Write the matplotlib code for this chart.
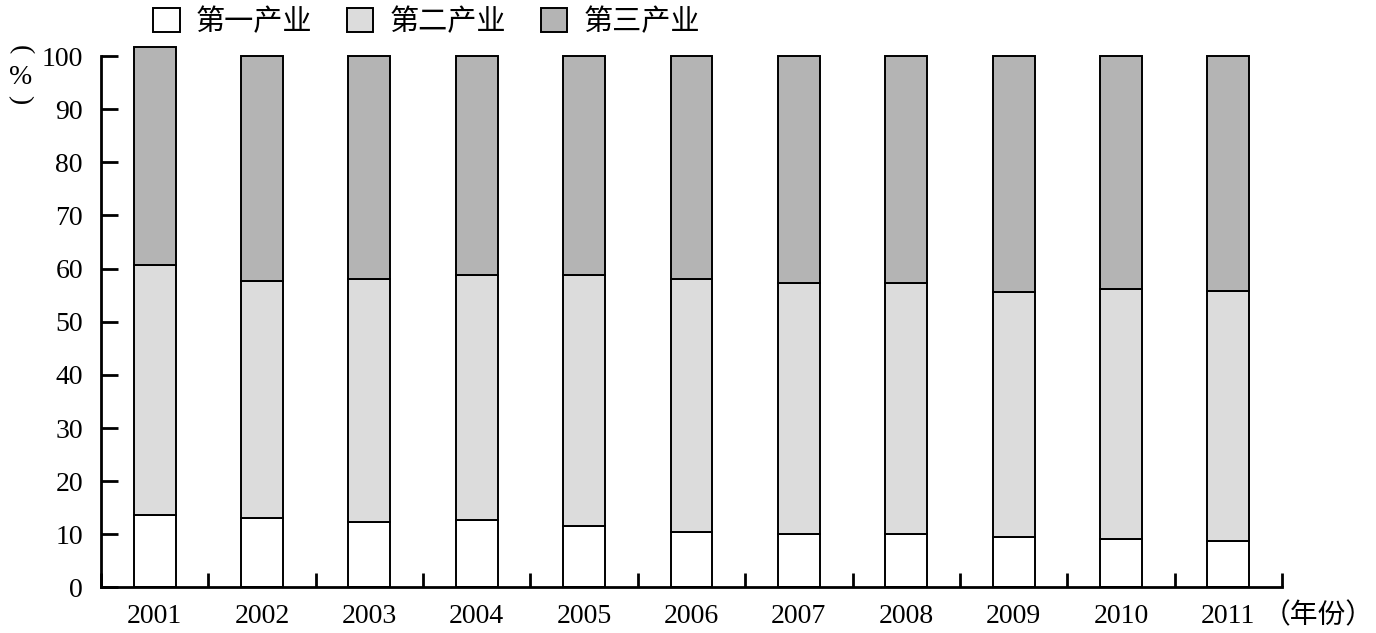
import numpy as np
import matplotlib
matplotlib.use('Agg')
import matplotlib.pyplot as plt

plt.rcParams['font.family'] = ['Liberation Serif', 'Noto Sans CJK SC', 'DejaVu Sans']

years = ['2001', '2002', '2003', '2004', '2005', '2006',
         '2007', '2008', '2009', '2010', '2011']
primary = [13.6, 13.1, 12.3, 12.7, 11.5, 10.4, 10.1, 10.1, 9.5, 9.2, 8.7]
secondary = [47.1, 44.6, 45.7, 46.1, 47.3, 47.6, 47.2, 47.2, 46.1, 46.9, 47.0]
tertiary = [41.0, 42.3, 42.0, 41.2, 41.2, 42.0, 42.7, 42.7, 44.4, 43.9, 44.3]
names = ['第一产业', '第二产业', '第三产业']
colors = ['white', '#dcdcdc', '#b4b4b4']

fig = plt.figure(figsize=(13.76, 6.33), dpi=100)
ax = fig.add_axes([0.0734, 0.0719, 0.8583, 0.8396])

x = np.arange(len(years))
w = 0.39
bottom = np.zeros(len(years))
handles = []
for vals, c, nm in zip([primary, secondary, tertiary], colors, names):
    b = ax.bar(x, vals, w, bottom=bottom, color=c, edgecolor='black',
               linewidth=1.4, label=nm, clip_on=False, zorder=3)
    handles.append(b)
    bottom = bottom + np.array(vals)

ax.set_xlim(-0.5, len(years) - 0.5)
ax.set_ylim(0, 100)
ax.set_yticks(range(0, 101, 10))

ax.set_xticks(x)
ax.set_xticklabels(years)
ax.set_xticks(np.arange(-0.5, len(years), 1), minor=True)
ax.tick_params(axis='x', which='major', length=0, pad=12, labelsize=20)
ax.tick_params(axis='x', which='minor', direction='in', length=10, width=2)
ax.tick_params(axis='y', direction='in', length=12, width=2, pad=13, labelsize=20)

for s in ['top', 'right']:
    ax.spines[s].set_visible(False)
for s in ['left', 'bottom']:
    ax.spines[s].set_linewidth(2)
    ax.spines[s].set_zorder(4)

# vertical y label: brackets turned on their side around an upright %
fig.text(20/1376, 1 - 50/633, '(', rotation=-90, ha='center', va='center',
         fontsize=20, family='Liberation Serif')
fig.text(21/1376, 1 - 77/633, '%', ha='center', va='center', fontsize=20)
fig.text(20/1376, 1 - 100/633, ')', rotation=-90, ha='center', va='center',
         fontsize=20, family='Liberation Serif')

fig.text(1374/1376, 1 - 615/633, '（年份）', ha='right', va='center', fontsize=20,
         family='Noto Sans CJK SC')

fig.legend(handles=handles, labels=names, loc='center', bbox_to_anchor=(0.31, 1 - 22/633),
           ncol=3, frameon=False, fontsize=21, handlelength=0.9, handleheight=0.9,
           handletextpad=0.55, columnspacing=1.2)

plt.savefig('out.png', dpi=100)
plt.close()
